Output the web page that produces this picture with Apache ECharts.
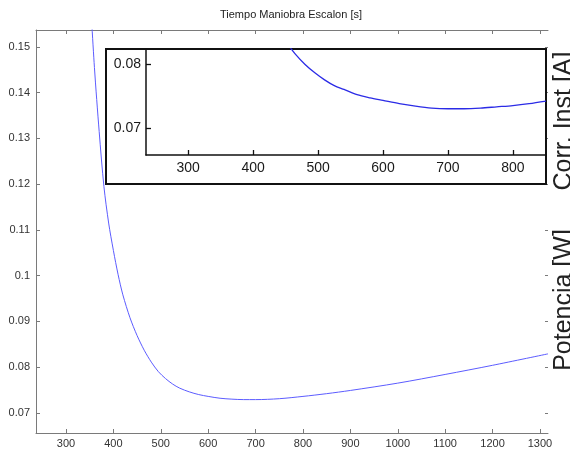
<!DOCTYPE html>
<html>
<head>
<meta charset="utf-8">
<script src="https://cdn.jsdelivr.net/npm/echarts@6/dist/echarts.min.js"></script>
<style>html,body{margin:0;padding:0;background:#fff}#c{width:570px;height:450px}</style>
</head>
<body>
<div id="c"></div>
<script>
// Main curve (Tiempo Maniobra Escalon [s] vs value)
const mainX = [350, 360, 370, 380, 390, 400, 410, 420, 435, 450, 465, 480, 495, 510, 525, 540, 560, 580, 600, 625, 650, 675, 700, 750, 800, 850, 900, 1000, 1100, 1200, 1317];
const mainY = [0.163, 0.1455, 0.1315, 0.1195, 0.1115, 0.1055, 0.1002, 0.0958, 0.0908, 0.0869, 0.0837, 0.0811, 0.0790, 0.0775, 0.0763, 0.0754, 0.0746, 0.0740, 0.0736, 0.0732, 0.0730, 0.0729, 0.0729, 0.0731, 0.0736, 0.0742, 0.0749, 0.0765, 0.0784, 0.0804, 0.0829];
// Inset (zoomed) curve
const insetX = [450, 465, 480, 495, 510, 525, 540, 560, 580, 600, 625, 650, 675, 700, 725, 750, 775, 800, 825, 851];
const insetY = [0.0835, 0.0815, 0.0799, 0.0786, 0.0775, 0.0766, 0.0760, 0.0752, 0.0747, 0.0743, 0.0738, 0.0734, 0.0731, 0.0730, 0.0730, 0.0731, 0.0733, 0.0735, 0.0738, 0.0742];
// Tick labels
const mainXTicks = [300, 400, 500, 600, 700, 800, 900, 1000, 1100, 1200, 1300];
const mainYTicks = [0.07, 0.08, 0.09, 0.1, 0.11, 0.12, 0.13, 0.14, 0.15];
const insetXTicks = [300, 400, 500, 600, 700, 800];
const insetYTicks = [0.07, 0.08];
const titleText = 'Tiempo Maniobra Escalon [s]';
const rightLabel1 = 'Corr. Inst [A]';
const rightLabel2 = 'Potencia [W]';

const FONT = '"Liberation Sans", Arial, sans-serif';
const chart = echarts.init(document.getElementById('c'), null, {renderer: 'canvas'});
const fmt = v => String(v);

const mainAxisColor = '#7a7a7a';
const option = {
  animation: false,
  backgroundColor: '#fff',
  grid: [
    {left: 36, top: 30, width: 512, height: 403, show: false},
    {left: 146, top: 49, width: 400, height: 106, show: false}
  ],
  xAxis: [
    {gridIndex: 0, type: 'value', min: 236.7, max: 1317, position: 'bottom', z: 1,
     splitLine: {show: false},
     axisLine: {show: true, lineStyle: {color: mainAxisColor, width: 1}},
     axisTick: {show: true, inside: true, length: 4, customValues: mainXTicks, lineStyle: {color: mainAxisColor}},
     axisLabel: {show: true, customValues: mainXTicks, formatter: fmt, margin: 5, color: '#333', fontSize: 11, fontFamily: FONT}},
    {gridIndex: 0, type: 'value', min: 236.7, max: 1317, position: 'top', z: 1,
     splitLine: {show: false},
     axisLine: {show: true, lineStyle: {color: mainAxisColor, width: 1}},
     axisTick: {show: true, inside: true, length: 4, customValues: mainXTicks, lineStyle: {color: mainAxisColor}},
     axisLabel: {show: false}},
    {gridIndex: 1, type: 'value', min: 235, max: 851, position: 'bottom', z: 8,
     splitLine: {show: false},
     axisLine: {show: true, lineStyle: {color: '#111', width: 1.5}},
     axisTick: {show: true, inside: true, length: 5, customValues: insetXTicks, lineStyle: {color: '#111', width: 1.3}},
     axisLabel: {show: true, customValues: insetXTicks, formatter: fmt, margin: 6, color: '#1a1a1a', fontSize: 14, fontFamily: FONT}}
  ],
  yAxis: [
    {gridIndex: 0, type: 'value', min: 0.0656, max: 0.1537, position: 'left', z: 1,
     splitLine: {show: false},
     axisLine: {show: true, lineStyle: {color: mainAxisColor, width: 1}},
     axisTick: {show: true, inside: true, length: 4, customValues: mainYTicks, lineStyle: {color: mainAxisColor}},
     axisLabel: {show: true, customValues: mainYTicks, formatter: fmt, margin: 6, color: '#333', fontSize: 11, fontFamily: FONT}},
    {gridIndex: 0, type: 'value', min: 0.0656, max: 0.1537, position: 'right', z: 1,
     splitLine: {show: false},
     axisLine: {show: false},
     axisTick: {show: true, inside: true, length: 3, customValues: mainYTicks, lineStyle: {color: mainAxisColor}},
     axisLabel: {show: false}},
    {gridIndex: 1, type: 'value', min: 0.0658, max: 0.0823, position: 'left', z: 8,
     splitLine: {show: false},
     axisLine: {show: true, lineStyle: {color: '#111', width: 1.5}},
     axisTick: {show: true, inside: true, length: 5, customValues: insetYTicks, lineStyle: {color: '#111', width: 1.3}},
     axisLabel: {show: true, customValues: insetYTicks, formatter: fmt, margin: 5, color: '#1a1a1a', fontSize: 14, fontFamily: FONT}}
  ],
  graphic: [
    {type: 'rect', z: 5, shape: {x: 106, y: 49, width: 440, height: 135},
     style: {fill: '#fff', stroke: '#111', lineWidth: 2}},
    {type: 'text', z: 20, x: 291, y: 15,
     style: {text: titleText, font: '11px ' + FONT, fill: '#222', textAlign: 'center', textVerticalAlign: 'middle'}},
    {type: 'text', z: 20, x: 564, y: 121, rotation: Math.PI / 2,
     style: {text: rightLabel1, font: '25px ' + FONT, fill: '#222', textAlign: 'center', textVerticalAlign: 'middle'}},
    {type: 'text', z: 20, x: 564, y: 300, rotation: Math.PI / 2,
     style: {text: rightLabel2, font: '25px ' + FONT, fill: '#222', textAlign: 'center', textVerticalAlign: 'middle'}}
  ],
  series: [
    {type: 'line', xAxisIndex: 0, yAxisIndex: 0, z: 2, showSymbol: false, smooth: 0.3, clip: true,
     lineStyle: {color: '#5c5cff', width: 1}, silent: true,
     data: mainX.map((x, i) => [x, mainY[i]])},
    {type: 'line', xAxisIndex: 2, yAxisIndex: 2, z: 9, showSymbol: false, smooth: 0.3, clip: true,
     lineStyle: {color: '#2b2be6', width: 1.3}, silent: true,
     data: insetX.map((x, i) => [x, insetY[i]])}
  ]
};
chart.setOption(option);
</script>
</body>
</html>
